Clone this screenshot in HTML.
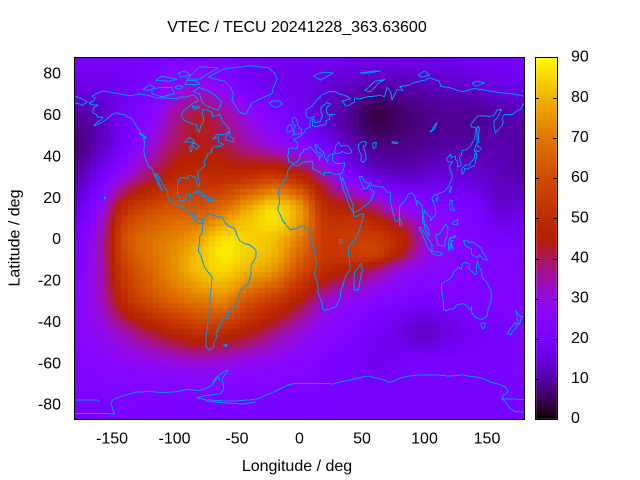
<!DOCTYPE html>
<html><head><meta charset="utf-8">
<style>
html,body{margin:0;padding:0;background:#fff;}
#wrap{position:relative;width:640px;height:480px;overflow:hidden;background:#fff;}
#cv{position:absolute;left:0;top:0;}
svg{position:absolute;left:0;top:0;}
text{font-family:"Liberation Sans",Arial,sans-serif;font-size:16px;fill:#000;}
.c{fill:none;stroke:rgb(0,150,255);stroke-width:1;vector-effect:non-scaling-stroke;stroke-linejoin:round;}
</style></head>
<body><div id="wrap">
<svg width="640" height="480"><rect x="75" y="58" width="450" height="361" fill="rgb(120,3,250)"/></svg>
<canvas id="cv" width="640" height="480"></canvas>
<svg width="640" height="480" shape-rendering="crispEdges">
<defs><clipPath id="pc"><rect x="75" y="58" width="449" height="361"/></clipPath></defs>
<g clip-path="url(#pc)"><g transform="translate(299.5,238.5) scale(1.25,-2.0686)">
<polyline class="c" points="-141,69.6 -135,69 -128,70 -120,69 -115,68 -108,68 -98,67.5 -95,68.5 -90,68.5 -85,69.5 -82,68 -81,66.5 -85,65.5 -88,64 -93,61.5 -94.5,59 -92,57 -87,55.8 -82.3,55 -82,52.5 -80,51.5 -79,54.5 -77,56 -76.8,58 -78,60.5 -77.5,62.3 -73,62 -70,61 -69.5,59 -65,59.5 -64,60.2 -61.5,56.5 -58,54.5 -55.8,52.5 -57,51.4 -60,50.2 -66,50.2 -69.5,48 -65,49.2 -64.5,48.5 -65,47.8 -64.7,46.5 -61,45.6 -63.5,44.6 -66,44.3 -67,44.7 -70,43.6 -70.7,42.5 -70,41.8 -71.5,41.3 -74,40.7 -74,39.5 -75.5,38.5 -76.2,37 -75.6,35.4 -77,34.5 -79,33.5 -81,32 -81.4,30.5 -80.5,28 -80,26.5 -80.4,25.2 -81.2,25.3 -82,26.5 -82.8,28.5 -83.5,29.8 -85,29.7 -86.5,30.4 -89,30.3 -89.4,29 -91,29.2 -94,29.6 -96.5,28.3 -97.3,27 -97.5,25 -97.7,22 -96.4,19.5 -94.5,18.2 -92,18.6 -91,19.2 -90.5,20.8 -88,21.5 -86.8,21.2 -87.5,19 -88.2,17 -88.5,15.9 -86,15.9 -84,15.8 -83.2,15 -83.6,12 -83.7,10.8 -82,9 -79.5,9.5 -77.5,8.7 -77.9,7.3 -80.4,7.3 -81.7,8 -83.7,8.5 -85.7,9.9 -85.8,11.2 -87.5,12.9 -89.5,13.5 -91.5,14 -93.5,15.7 -94.7,16.2 -96.5,15.7 -98.5,16.3 -101.5,17.5 -104.5,19 -105.6,20.5 -105.3,21.8 -106,23 -108,25 -109.4,26.5 -111,28 -112.5,29.8 -114.6,31.5 -114.7,30.2 -113,28.5 -112,26.5 -110.3,24.2 -109.4,23.2 -110.2,23.6 -112.2,25 -114,27.5 -114.5,29 -116,30.5 -117.1,32.5 -118.4,34 -120.6,34.6 -121.9,36.6 -123,38 -123.8,39.8 -124.4,42 -124,46.3 -124.7,48.4 -123,48.3 -122.8,49 -125,50.2 -127.5,51 -128,52.5 -130.5,54.3 -132,56 -134.5,58.3 -137,58.7 -139.8,59.8 -143,60 -146,60.8 -148.5,60.5 -151.5,59.2 -154,57.8 -156.5,56.7 -159,55.8 -162,55 -164.5,54.5 -162,56 -158,57.8 -157,58.8 -161.5,58.6 -162.5,60 -165,60.6 -165.3,62 -164.5,63.2 -161,64.5 -163,64.6 -166.5,64.7 -168,65.6 -164.5,66.5 -163.5,67.8 -166,68.9 -163,69.8 -160,70.6 -156.5,71.3 -153,70.9 -148,70.3 -141,69.6"/>
<polyline class="c" points="-73,78 -67,80 -60,82 -40,83.5 -25,82.5 -20,80 -18,77 -21,73 -22,70 -30,68 -38,65.5 -43,60 -48,61 -51,64 -54,67 -53,70 -55,73 -60,76 -67,77 -73,78"/>
<polyline class="c" points="-80,73 -85,71 -80,70 -78,66 -74,64 -65,62 -62,66 -67,69 -72,71 -80,73"/>
<polyline class="c" points="-118,72 -112,73 -102,73 -100,70 -110,68.5 -118,70 -118,72"/>
<polyline class="c" points="-90,77 -80,83 -65,82.5 -75,79 -80,77 -90,77"/>
<polyline class="c" points="-125,72 -120,74.5 -116,73 -120,71.5 -125,72"/>
<polyline class="c" points="-92,74.5 -80,74.5 -82,76.2 -90,76.5 -92,74.5"/>
<polyline class="c" points="-86,64 -80,63.5 -84,62.5 -86,64"/>
<polyline class="c" points="-115,76.5 -105,76 -98,77 -110,78.5 -115,76.5"/>
<polyline class="c" points="-95,78 -87,79 -92,81 -97,80 -95,78"/>
<polyline class="c" points="-100,73 -96,72 -93,73.5 -97,74 -100,73"/>
<polyline class="c" points="-59,47.7 -53,46.7 -52.7,48 -55.5,49.5 -55.8,51.6 -59.5,48.5 -59,47.7"/>
<polyline class="c" points="-123.4,48.3 -128.4,50.8 -125,50 -123.4,48.3"/>
<polyline class="c" points="-92,46.7 -88,48.8 -85,47.8 -84.5,46.5 -87,46.5 -92,46.7"/>
<polyline class="c" points="-87.5,41.7 -88,44 -85,46 -83.5,46 -81.7,45.2 -80,44.5 -82.5,43 -84,44 -85.5,44.9 -86.5,42 -87.5,41.7"/>
<polyline class="c" points="-85,21.9 -82,23.2 -77,22 -74.2,20.2 -77.5,19.9 -78,20.8 -81.5,22.2 -85,21.9"/>
<polyline class="c" points="-74.5,18.4 -72,19.9 -69,19.2 -68.3,18.5 -71,18.2 -74.5,18.4"/>
<polyline class="c" points="-156,19 -155,19.5 -155.8,20.2 -156,19"/>
<polyline class="c" points="-158.2,21.3 -157.6,21.6"/>
<polyline class="c" points="-180,68.8 -175,67.8 -171,66.5 -169.8,66 -172,65.2 -173,64.3 -176,65 -178.5,65.5 -180,65.2"/>
<polyline class="c" points="-77.5,8.5 -75,11 -72,12 -70,11.5 -66,10.5 -62,10.5 -60,8 -57,6 -52,5 -50,1.5 -48,-1 -44,-2.5 -40,-3 -35,-5.5 -35,-9 -39,-13.5 -39,-17.5 -41,-22 -44,-23 -48,-26 -48.5,-28.5 -51,-31 -53,-34 -57,-35 -57,-37 -58,-38.5 -62,-39 -62,-41 -65,-42 -64,-43 -67,-46 -66,-47.5 -69,-51 -68.5,-52.3 -70,-53 -72,-54 -75,-52 -75,-48 -74,-44 -73,-40 -73.5,-37 -71.5,-33 -71.5,-28 -70.5,-23 -70,-18.5 -72,-17 -76,-14 -79,-8 -81,-6 -80,-2 -80,1 -78.5,2 -77.5,4 -77.3,7 -77.5,8.5"/>
<polyline class="c" points="-61,-51.5 -58,-51.3 -58.5,-52.2 -61,-51.5"/>
<polyline class="c" points="-17,21 -16,24 -13,27.5 -10,30 -9.5,32.5 -6,35.8 -2,35 3,36.8 10,37.3 11,35 10,34 15,32.3 20,30.5 20,32 25,31.8 29,31 32,31.2 32.5,29.8 35,24 37,21 38.5,18 40,15.5 43,12.7 44,10.5 51,12 51,10.5 48,4.5 44,-1 40,-3.5 39,-7 40,-10.5 40.5,-15 37,-18 35,-22 33,-25.5 32.5,-29 29,-33 25,-34 20,-34.8 18.5,-34 18,-31 15,-26.5 14.5,-22 12,-17 13.5,-12 12,-5.5 9,-1 9.5,3.5 6,4.3 2,6.3 -2,4.8 -7.5,4.3 -11,6.8 -13,8 -15,11 -16.8,13 -17.5,14.7 -16,17 -16,19.5 -17,21"/>
<polyline class="c" points="44,-25 47,-25 49.5,-17 50.5,-15.5 49,-12 47,-14 44,-16.5 43.5,-21 44,-25"/>
<polyline class="c" points="32,-0.5 34,-0.4 34,-2.5 32,-2.5 32,-0.5"/>
<polyline class="c" points="-9,43 -8,43.8 -2,43.4 -1.5,46 -4.5,48 -1.5,48.7 1.5,50 4,51.5 5,53 8.5,53.8 8.5,57 10.5,57.7 10.5,54.5 13,54 18,54.8 21,55 21,57 24,57.5 24,59.5 28.5,60 22.5,60 21.5,61.5 21.5,63 25,65 22,65.8 17,63 17.5,60.5 18.5,59.5 16.5,56.5 12.5,56 11,59 8,58 5.5,58.8 5,62 10,64 14,67 18,69.5 24,71 29,71 31,70 37,69 41,67.5 34,66.5 37,64 40,64.5 44,66 44,68 48,67.5 54,68.5 60,68.8 65,69.3 68,68.5 70,73 73,71 74,67 78,72 83,71.5 80,73.5 87,74 92,75.5 100,76.5 104,77.7 112,76 113,73.5 120,73 127,71.5 131,71 140,72.5 150,71.5 160,70.5 170,70 178,69 180,68.8"/>
<polyline class="c" points="180,65.5 178.5,64.5 177,62.5 173.5,61.5 170.5,60 166,60 163.5,59.8 162,58 163,56.5 162,54.5 159.5,53 156.7,51 155.7,54 155.8,57 158,58 160,60.3 161.5,62.5 158,62 155,59.2 151,59 148,59.3 143,59.3 140.5,57.8 137,55 137.5,54 141,53.5 141.3,52 140.5,50 140,48 138.5,46.5 136,44 133,42.8 131,42.7 130,42.3 129.5,40.5 128,39 129.4,35.5 126.5,34.5 126.5,37.5 125,38 124.5,39.8 121,39 121,40.8 118,39 117.8,38 119,37 122.5,37 120,35 120.5,33 122,31 122,29 119.5,25.5 116.5,23 114,22.3 110.5,21.5 110,20.5 108.5,21.5 106.5,20 106,19 108,16.5 109,13 109,11.5 106.5,10 105,8.6 104.8,10.3 103,11 101,12.7 100,13.5 99,10 100.3,7 101,6.8 103.4,4 104,1.3 102,2.5 100.5,4.5 100,6.5 98.3,8 98.5,13 98,16 97,16.5 94,18.5 94,16 92,21 90,22 89,21.9 87,21.5 86,20 84,18 82,17 80.2,15.5 80,12 79.8,10 78,8.2 76.5,8.6 74.5,13 73,17 72.8,21 72.5,22.5 70,22.5 68.5,23.5 67,24.8 62,25.2 58,25.7 57,27 54,26.7 51.5,27.9 50,30 48,30 48.5,28.5 50,26.5 50.5,25.5 51.5,24.2 54,24.2 56,26.2 56.4,24.5 57.5,23.5 59.8,22.5 58.5,20.5 57.7,19 55,17 52,15.7 48.5,14 45,12.8 43.3,12.8 42.6,15.5 42.6,16.6 40,20 39,21.8 38,24 36.5,26 35,28 34.6,29.5 34,28 32.6,29.9 32.3,31.2 34,31.5 35,33 35.8,35 36,36.7 33,36.2 30,36.2 27.5,37 26.3,38.3 26.5,40.3 28,41 26,40.8 24,40.5 23,39.5 22.5,37 21.5,38 20,39.5 19.5,41.5 16,43.5 13.5,45.5 12.3,45 14,42 16,41.5 18.5,40 16.5,39.5 16,38 15.7,40 12.5,41.7 10.5,43 8.8,44.4 6,43 3,43.3 3.2,41.9 0.5,40.8 0,39 -0.5,38 -2,36.8 -5,36.3 -6.5,36.8 -7.4,37.2 -8.9,37 -8.8,38.7 -9.5,39.5 -8.7,41.5 -9,43"/>
<polyline class="c" points="28,41.5 29,41.2 31.5,41.2 34,42 36,41.6 38,41 41.5,41.5 41.5,42.5 39.5,44.3 37,45 35,45 33.5,44.5 32.5,45.5 31,46.6 30,45.5 29,44.8 28.6,43.3 28,41.5"/>
<polyline class="c" points="47,45 49,46.5 51.5,47 53.5,46.5 53,45 51,44.5 52.5,42 53,40 53.5,38.5 51,36.8 49,37.6 49.5,40.2 48,42 47.5,43.5 47,45"/>
<polyline class="c" points="58.5,46 61.5,46.5 61,44 59,43.5 58.5,46"/>
<polyline class="c" points="74,46.8 79,46.5 78,45.8 74,46.2 74,46.8"/>
<polyline class="c" points="104,51.7 106,52.5 109,55.5 110,55.7 108,53 105,51.5 104,51.7"/>
<polyline class="c" points="-5,50 1.5,51 1.7,52.8 0,53.5 -1.5,55 -2,57 -3.5,58.6 -5,58.6 -6,57 -5,55 -3,54.5 -4.5,53.3 -4.5,52 -5.3,51.7 -4,51.3 -5.7,50 -5,50"/>
<polyline class="c" points="-6,52 -6,54 -7.5,55.2 -10,54 -10,51.6 -8,51.6 -6,52"/>
<polyline class="c" points="-22,64 -24,65.5 -22,66.4 -16,66.5 -13.5,65 -18,63.4 -22,64"/>
<polyline class="c" points="52,71.5 56,73.5 60,76 68,76.8 63,75 57,71 52,71.5"/>
<polyline class="c" points="11,78.5 16,80 22,80.3 27,80 21,78 17,76.6 11,78.5"/>
<polyline class="c" points="48,80 60,81 65,81 55,80 48,80"/>
<polyline class="c" points="95,79 100,81 104,79 98,78 95,79"/>
<polyline class="c" points="138,75 142,76 148,75.3 141,73.5 138,75"/>
<polyline class="c" points="178,71.5 180,71 180,71.8"/>
<polyline class="c" points="142,46 143.5,46.5 143,49.5 144,53 143,54.3 142,53.5 142,46"/>
<polyline class="c" points="130,31 131.5,31.5 132,33.8 135,33.5 136.8,34.5 140,35 141,38 142,40 141.3,41.4 140,40.5 140,39 139,38 137,37 136,35.6 132.5,35.5 131,34.4 129.7,33.5 130,31"/>
<polyline class="c" points="140,41.5 141.5,42.5 143.3,42 145.5,43.3 141.5,45.4 140,43 140,41.5"/>
<polyline class="c" points="120.5,22 121.9,25 121,25 120,23 120.5,22"/>
<polyline class="c" points="108.7,19 111,19.8 110,18.2 108.7,19"/>
<polyline class="c" points="120,16 120.5,18.5 122.3,18.4 122,16 124,13.5 121,13.8 120,16"/>
<polyline class="c" points="122,7 126,6.5 126.5,9 123.5,8.5 122,7"/>
<polyline class="c" points="109,1.5 110,-1 110.5,-3 114,-3.5 116.3,-3.8 116.5,-1 118,0.8 119,5 117,7 116,6 113,3 111,1.8 109.6,2 109,1.5"/>
<polyline class="c" points="95.3,5.5 97.5,5.2 100.5,2 104,-1 106,-3 105.8,-5.8 104.5,-5.9 102.3,-4 100.5,-1 98.6,1.7 95.3,5.5"/>
<polyline class="c" points="105.2,-6.8 106,-5.9 108.5,-6.5 111,-6.4 113,-6.9 114.5,-7.8 111,-8.2 108,-7.8 105.2,-6.8"/>
<polyline class="c" points="119,-5.5 120.4,-5.5 120.5,-3 121,-2.5 122,-4.8 123,-5 121.5,-1.8 123,-1 121,-1.2 120.5,0.5 123,0.8 125,1.5 124.5,0.5 120,0 119.5,-1 119,-3 119,-5.5"/>
<polyline class="c" points="131,-1 134,-0.8 136,-2.3 138,-1.6 141,-2.6 145,-4.5 146,-6 148,-8 150.5,-10.5 147,-10 144,-7.8 142.5,-9.3 141,-9 139,-8 138,-8.5 137.5,-5 135,-4.3 132,-3 132,-2 131,-1"/>
<polyline class="c" points="79.8,8 80.2,9.8 81.8,7.5 81.5,6.2 80.2,6 79.8,8"/>
<polyline class="c" points="113.5,-22 114,-26 115,-30 115,-34 117.5,-35 120,-34 123.5,-34 126,-32 131,-31.5 134,-32.5 136,-34.5 137.8,-33 137.5,-35.5 140,-37.8 143.5,-38.8 146.5,-39 150,-37.5 151,-34 153,-31 153.5,-28 153,-25 150.8,-22.5 149,-20.5 146.3,-19 145.3,-15 143.5,-14 142.5,-10.8 141.5,-13 141.6,-17 140.5,-17.5 139,-16.5 136,-15 135.5,-12.2 132.5,-11.5 130.5,-12.3 129.5,-14.9 127,-13.8 125,-15.5 123,-16.5 122,-18.5 119,-20 116.5,-20.8 113.5,-22"/>
<polyline class="c" points="145,-40.8 148.3,-40.9 148,-43.2 146.5,-43.5 145.2,-42.2 145,-40.8"/>
<polyline class="c" points="172.7,-34.5 174.5,-36 176,-37.5 178.5,-37.7 177,-39.3 176,-41.3 174.6,-41.3 175,-39.5 173.8,-39.2 174.5,-38 172.7,-34.5"/>
<polyline class="c" points="172.7,-40.5 174.3,-41.7 173,-43.5 171,-44.5 169,-46.6 166.5,-46 168,-44 171,-42 172.7,-40.5"/>
<polyline class="c" points="-180,-78 -162,-78 -160,-79"/>
<polyline class="c" points="-180,-84.5 -165,-84.5 -148,-84.8 -150,-81.5 -151,-79 -148,-77.5 -140,-75.8 -130,-74.2 -120,-74 -110,-74.5 -100,-74.2 -90,-73 -80,-73.5 -75,-72.5 -70,-71 -68,-69 -65,-67 -62,-65 -58,-63.5 -57,-64 -60,-66 -62,-68 -61,-70 -61,-73 -63,-75 -75,-76 -82,-77 -75,-78 -60,-78.5 -50,-78.5 -40,-78 -33,-77.5 -28,-76 -20,-74 -15,-72.5 -10,-71 -4,-70 0,-70 10,-70 20,-70 27,-70.3 33,-69.3 40,-68.5 50,-67 55,-66.5 62,-67.5 68,-68.5 72,-69.5 75,-69 80,-67.5 88,-66.5 95,-66 100,-66 110,-66 120,-66.5 130,-66 135,-66.5 142,-67 148,-68 153,-69.5 160,-70.5 165,-72 167,-74 163,-76 162,-77.5 165,-79 168,-82 172,-83.5 180,-84"/>
<polyline class="c" points="162,-77.5 180,-77.8"/>
<polyline class="c" points="-75,-78.5 -60,-79.5 -45,-80 -35,-79"/>
<polyline class="c" points="-70,-70 -66,-66.5 -63,-69"/>
</g></g>
<rect x="74.5" y="57.5" width="450" height="362" fill="none" stroke="#000" stroke-width="1"/>
<rect x="535.5" y="57.5" width="22" height="362" fill="none" stroke="#000" stroke-width="1"/>
<path d="M535,98.5h4M553,98.5h4M535,138.5h4M553,138.5h4M535,178.5h4M553,178.5h4M535,218.5h4M553,218.5h4M535,259.5h4M553,259.5h4M535,299.5h4M553,299.5h4M535,339.5h4M553,339.5h4M535,379.5h4M553,379.5h4" stroke="#000" stroke-width="1"/>
</svg>
<svg width="640" height="480">
<text x="297" y="32" text-anchor="middle">VTEC / TECU 20241228_363.63600</text>
<g text-anchor="end">
<text x="61" y="78.7">80</text>
<text x="61" y="120">60</text>
<text x="61" y="161.4">40</text>
<text x="61" y="202.8">20</text>
<text x="61" y="244.2">0</text>
<text x="61" y="285.5">-20</text>
<text x="61" y="326.9">-40</text>
<text x="61" y="368.3">-60</text>
<text x="61" y="409.7">-80</text>
</g>
<g text-anchor="middle">
<text x="112" y="443.5">-150</text>
<text x="174.5" y="443.5">-100</text>
<text x="237" y="443.5">-50</text>
<text x="299.5" y="443.5">0</text>
<text x="362" y="443.5">50</text>
<text x="424.5" y="443.5">100</text>
<text x="487" y="443.5">150</text>
</g>
<g>
<text x="571" y="61.7">90</text>
<text x="571" y="101.9">80</text>
<text x="571" y="142">70</text>
<text x="571" y="182.2">60</text>
<text x="571" y="222.4">50</text>
<text x="571" y="262.5">40</text>
<text x="571" y="302.7">30</text>
<text x="571" y="342.8">20</text>
<text x="571" y="383">10</text>
<text x="571" y="423">0</text>
</g>
<text x="297" y="471" text-anchor="middle">Longitude / deg</text>
<text x="0" y="0" text-anchor="middle" transform="translate(19.5,238) rotate(-90)">Latitude / deg</text>
</svg>
</div>
<script>
(function(){
var G=[
[20,20,20,20,21,21,21,20,20,19,19,18,18,18,18,18,19,19,20],
[17,17,18,21,26,28,24,19,17,17,15,13,11,11,12,13,14,16,17],
[10,12,19,24,35,42,36,28,22,19,13,9,4,6,8,9,9,10,12],
[7,12,20,30,40,44,41,35,30,25,19,12,8,8,9,10,10,11,10],
[10,18,30,40,48,50,50,52,55,48,35,22,16,13,14,15,14,12,11],
[15,27,50,58,62,62,68,78,85,76,50,45,38,28,24,22,20,14,15],
[20,33,60,68,72,78,86,84,82,71,55,55,55,48,32,25,22,20,20],
[22,33,56,66,74,82,85,80,75,61,50,45,38,30,26,24,22,22,22],
[25,32,50,60,66,70,72,62,55,45,33,27,24,22,20,21,22,22,23],
[25,28,35,42,48,52,50,45,38,31,25,22,19,16,13,16,19,20,23],
[23,24,26,28,30,31,30,28,26,24,21,20,18,19,20,20,20,20,22],
[21,21,22,22,22,22,22,22,21,21,21,20,20,20,20,20,20,20,21],
[20,20,20,20,20,20,20,20,20,20,20,20,20,20,20,20,20,20,20]];
function cr(a,b,c,d,t){return 0.5*(2*b+(-a+c)*t+(2*a-5*b+4*c-d)*t*t+(-a+3*b-3*c+d)*t*t*t);}
function g(i,j){i=Math.max(0,Math.min(12,i));j=Math.max(0,Math.min(18,j));return G[i][j];}
function val(lon,lat){var fx=(lon+180)/20,fy=(90-lat)/15;var j=Math.floor(fx),i=Math.floor(fy);var tx=fx-j,ty=fy-i;var r=[];for(var k=-1;k<3;k++){r.push(cr(g(i+k,j-1),g(i+k,j),g(i+k,j+1),g(i+k,j+2),tx));}
var v=cr(r[0],r[1],r[2],r[3],ty);
v+=8*Math.exp(-Math.pow((lon-60)/22,2)-Math.pow((lat+8)/5,2));
return v;}
function col(v){var x=Math.max(0,Math.min(1,v/90));var r=Math.sqrt(x),gg=x*x*x,b=Math.max(0,Math.sin(2*Math.PI*x));return 'rgb('+Math.round(r*255)+','+Math.round(gg*255)+','+Math.round(b*255)+')';}
var cv=document.getElementById('cv');var ctx=cv.getContext('2d');
function X(lon){return 74.5+(lon+180)*1.25;}
function Y(lat){return 238.5-lat*2.0686;}
for(var lon=-180;lon<=180;lon+=5){
 var x0=Math.round(X(lon-2.5)),x1=Math.round(X(lon+2.5));x0=Math.max(75,x0);x1=Math.min(524,x1);
 if(x1<=x0)continue;
 for(var k=0;k<71;k++){var lat=87.5-2.5*k;
  var y0=Math.round(Y(lat+1.25)),y1=Math.round(Y(lat-1.25));y0=Math.max(58,y0);y1=Math.min(419,y1);
  if(y1<=y0)continue;
  ctx.fillStyle=col(val(lon,lat));ctx.fillRect(x0,y0,x1-x0,y1-y0);}
}
for(var py=58;py<419;py++){var v=(419-py-0.5)/361*90;ctx.fillStyle=col(v);ctx.fillRect(536,py,21,1);}
})();
</script>
</body></html>
